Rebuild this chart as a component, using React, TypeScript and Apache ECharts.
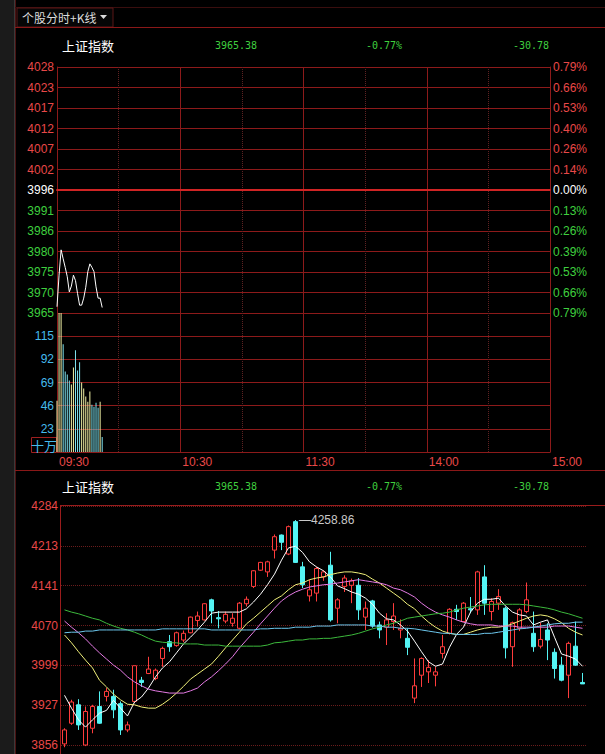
import React, { useEffect, useRef } from 'react';
import * as echarts from 'echarts';

// ---------- header ----------
const tabTitle = '个股分时+K线';
const indexName = '上证指数';
const lastPrice = 3965.38;
const changeValue = -30.78;
const changePct = -0.77;
const prevClose = 3996.16;

// ---------- intraday panel ----------
const topStep = 5.2617; // price per grid row (0.13% of prev close)
const priceLabels = ['3965', '3970', '3975', '3980', '3986', '3991', '3996', '4002', '4007', '4012', '4017', '4023', '4028'];
const pctLabels = ['0.79%', '0.66%', '0.53%', '0.39%', '0.26%', '0.13%', '0.00%', '0.14%', '0.26%', '0.40%', '0.53%', '0.66%', '0.79%'];
const timeLabels = ['09:30', '10:30', '11:30', '14:00', '15:00'];
const volUnit = '十万';
const intradayPrice = [3966.2, 3974.3, 3980.8, 3978.5, 3976.3, 3973.9, 3970.0, 3971.5, 3974.3, 3972.9, 3969.6, 3966.6, 3966.6, 3968.4, 3971.2, 3975.2, 3977.2, 3976.3, 3975.2, 3971.3, 3968.4, 3968.4, 3966.0];
const intradayVolume = [51, 138, 138, 107, 80, 77, 71, 67, 84, 101, 81, 89, 69, 63, 55, 50, 60, 47, 45, 49, 44, 50, 15];
const volumeDir = ['u', 'u', 'u', 'd', 'd', 'd', 'd', 'u', 'u', 'd', 'd', 'd', 'u', 'u', 'u', 'u', 'u', 'd', 'd', 'd', 'd', 'u', 'd'];

// ---------- daily K panel ----------
const kLabels = ['3856', '3927', '3999', '4070', '4141', '4213', '4284'];
const kMin = 3856;
const kStep = 428 / 6;
const kOpen = [3858, 3895, 3928, 3856, 3886, 3925, 3943, 3943, 3930, 3883, 3934, 3972, 3984, 3975, 4011, 4041, 4034, 4044, 4057, 4079, 4080, 4116, 4084, 4078, 4074, 4065, 4109, 4140, 4169, 4166, 4205, 4232, 4198, 4256, 4175, 4123, 4128, 4157, 4178, 4101, 4140, 4142, 4142, 4085, 4114, 4071, 4067, 4077, 4062, 4047, 3940, 3981, 3987, 3981, 4020, 4056, 4099, 4077, 4100, 4098, 4157, 4095, 4110, 4101, 4032, 4065, 4095, 4056, 4033, 4062, 4022, 3999, 3981, 4033, 3968];
const kClose = [3883, 3933, 3892, 3916, 3925, 3895, 3952, 3919, 3883, 3892, 3998, 3968, 3992, 3990, 4029, 4032, 4057, 4056, 4085, 4087, 4109, 4096, 4082, 4090, 4083, 4110, 4117, 4168, 4183, 4184, 4229, 4219, 4247, 4183, 4143, 4134, 4172, 4166, 4080, 4116, 4155, 4150, 4098, 4101, 4069, 4062, 4080, 4087, 4065, 4031, 3962, 4011, 3995, 3987, 4032, 4099, 4095, 4110, 4098, 4166, 4110, 4113, 4122, 4030, 4075, 4098, 4116, 4032, 4045, 4044, 3993, 3972, 4038, 3999, 3965.38];
const kLow = [3852, 3892, 3883, 3854, 3877, 3894, 3934, 3904, 3874, 3879, 3931, 3960, 3983, 3972, 3996, 4023, 4032, 4040, 4056, 4068, 4079, 4074, 4065, 4074, 4068, 4063, 4104, 4137, 4168, 4157, 4190, 4205, 4196, 4182, 4137, 4113, 4113, 4150, 4077, 4074, 4130, 4110, 4080, 4062, 4066, 4047, 4035, 4062, 4047, 4017, 3931, 3960, 3967, 3961, 4011, 4054, 4080, 4076, 4092, 4089, 4089, 4079, 4098, 4011, 3996, 4060, 4092, 4023, 4029, 4008, 3975, 3970, 3940, 3998, 3965.38];
const kHigh = [3886, 3937, 3938, 3925, 3928, 3952, 3958, 3955, 3934, 3898, 3998, 3978, 4014, 3993, 4032, 4053, 4059, 4061, 4086, 4095, 4110, 4118, 4096, 4095, 4092, 4112, 4122, 4169, 4184, 4186, 4233, 4233, 4249, 4258.86, 4184, 4152, 4175, 4169, 4202, 4119, 4160, 4154, 4155, 4113, 4116, 4077, 4092, 4110, 4081, 4065, 4011, 4013, 4008, 3996, 4053, 4101, 4107, 4112, 4121, 4168, 4178, 4119, 4135, 4104, 4077, 4101, 4147, 4095, 4075, 4074, 4029, 4014, 4041, 4077, 3985];
const ma5 = [3945, 3922, 3901, 3888, 3901, 3913, 3918, 3936, 3922, 3908, 3933, 3942, 3958, 3978, 3994, 4005, 4021, 4037, 4049, 4062, 4076, 4092, 4094, 4094, 4094, 4094, 4100, 4112, 4126, 4143, 4162, 4187, 4209, 4212, 4201, 4184, 4175, 4168, 4157, 4141, 4136, 4130, 4126, 4119, 4108, 4092, 4082, 4080, 4071, 4060, 4042, 4023, 4005, 3997, 4001, 4031, 4054, 4067, 4094, 4110, 4117, 4117, 4119, 4105, 4094, 4089, 4087, 4071, 4076, 4080, 4049, 4019, 4015, 4010, 3997];
const ma10 = [4053, 4039, 4023, 4008, 3994, 3972, 3960, 3947, 3937, 3929, 3928, 3924, 3922, 3922, 3929, 3938, 3949, 3961, 3974, 3983, 3992, 4001, 4015, 4030, 4044, 4058, 4073, 4083, 4094, 4105, 4116, 4123, 4134, 4143, 4146, 4152, 4155, 4157, 4161, 4164, 4166, 4166, 4164, 4161, 4153, 4146, 4137, 4128, 4119, 4108, 4100, 4087, 4076, 4067, 4060, 4056, 4054, 4054, 4058, 4062, 4065, 4067, 4067, 4069, 4073, 4078, 4083, 4087, 4089, 4087, 4082, 4075, 4065, 4058, 4053];
const ma20 = [4078, 4067, 4057, 4046, 4033, 4021, 4010, 3999, 3990, 3978, 3969, 3962, 3956, 3953, 3951, 3949, 3949, 3949, 3953, 3958, 3969, 3978, 3989, 4001, 4014, 4030, 4044, 4058, 4073, 4087, 4101, 4114, 4123, 4130, 4135, 4139, 4141, 4143, 4144, 4146, 4148, 4150, 4152, 4150, 4148, 4146, 4143, 4137, 4134, 4128, 4121, 4110, 4101, 4094, 4089, 4085, 4080, 4076, 4073, 4071, 4071, 4071, 4069, 4069, 4069, 4067, 4067, 4067, 4067, 4067, 4069, 4069, 4069, 4067, 4065];
const ma60 = [4098, 4094, 4091, 4087, 4083, 4080, 4074, 4069, 4065, 4062, 4058, 4053, 4047, 4042, 4040, 4039, 4039, 4037, 4037, 4037, 4035, 4035, 4035, 4033, 4033, 4033, 4033, 4033, 4033, 4035, 4039, 4040, 4042, 4044, 4044, 4046, 4046, 4047, 4047, 4049, 4051, 4053, 4056, 4060, 4064, 4067, 4071, 4074, 4078, 4083, 4085, 4087, 4089, 4091, 4092, 4094, 4098, 4101, 4103, 4105, 4107, 4108, 4108, 4108, 4108, 4108, 4107, 4105, 4103, 4101, 4098, 4094, 4091, 4087, 4083];
const ma120 = [4057, 4058, 4058, 4060, 4060, 4062, 4062, 4062, 4062, 4062, 4062, 4062, 4062, 4062, 4064, 4064, 4064, 4064, 4064, 4064, 4064, 4062, 4062, 4062, 4062, 4062, 4062, 4062, 4064, 4064, 4065, 4065, 4065, 4067, 4067, 4067, 4069, 4069, 4069, 4071, 4071, 4071, 4071, 4071, 4069, 4069, 4067, 4067, 4065, 4065, 4064, 4062, 4060, 4058, 4056, 4056, 4054, 4054, 4054, 4054, 4056, 4056, 4058, 4060, 4062, 4064, 4065, 4067, 4069, 4071, 4073, 4074, 4074, 4076, 4076];

// ---------- styles ----------
const GRID_RED = '#8c1a1a';
const DOT_RED = '#5e2222';
const RED_TXT = '#e84848';
const GREEN_TXT = '#3fcf3f';
const CYAN_TXT = '#45bbee';
const FONT = '"Liberation Sans", Arial, sans-serif';
const CJK = '"Noto Sans CJK SC", sans-serif';
const MONO = '"DejaVu Sans Mono", monospace';

const nTop = (p: number) => (p - prevClose) / topStep;
const nK = (p: number) => (p - kMin) / kStep;

export default function App() {
  const ref = useRef<HTMLDivElement>(null);

  useEffect(() => {
    document.body.style.background = '#000';
    const chart = echarts.init(ref.current!, null, { renderer: 'svg' });
    const kDays = kOpen.map((_, i) => String(i + 1));
    const maxHigh = Math.max(...kHigh);

    const lineSeries = (data: number[], color: string) => ({
      type: 'line',
      xAxisIndex: 2,
      yAxisIndex: 4,
      data: data.map(nK),
      showSymbol: false,
      symbol: 'none',
      lineStyle: { color, width: 1 },
      silent: true,
      z: 3,
    });

    const titleRow = (y: number) => [
      { type: 'text', x: 88, y, style: { text: indexName, fill: '#ffffff', font: `13px ${CJK}`, textAlign: 'center', textVerticalAlign: 'middle' } },
      { type: 'text', x: 236, y, style: { text: lastPrice.toFixed(2), fill: GREEN_TXT, font: `10px ${MONO}`, textAlign: 'center', textVerticalAlign: 'middle' } },
      { type: 'text', x: 384, y, style: { text: changePct.toFixed(2) + '%', fill: GREEN_TXT, font: `10px ${MONO}`, textAlign: 'center', textVerticalAlign: 'middle' } },
      { type: 'text', x: 531, y, style: { text: changeValue.toFixed(2), fill: GREEN_TXT, font: `10px ${MONO}`, textAlign: 'center', textVerticalAlign: 'middle' } },
    ];

    const hLine = (x1: number, x2: number, y: number, color: string) => ({
      type: 'line', shape: { x1, y1: y, x2, y2: y }, style: { stroke: color, lineWidth: 1 }, silent: true,
    });
    const vLine = (x: number, y1: number, y2: number, color: string) => ({
      type: 'line', shape: { x1: x, y1, x2: x, y2 }, style: { stroke: color, lineWidth: 1 }, silent: true,
    });

    chart.setOption({
      animation: false,
      backgroundColor: '#000000',
      grid: [
        { left: 57, top: 67, width: 493, height: 246 },
        { left: 57, top: 313, width: 493, height: 139 },
        { left: 61, top: 506, width: 525, height: 239 },
      ],
      xAxis: [
        {
          gridIndex: 0, type: 'value', min: 0, max: 240, interval: 60,
          axisLabel: { show: false }, axisTick: { show: false },
          axisLine: { show: true, lineStyle: { color: '#c41f1f', width: 2 } },
          splitLine: { show: true, lineStyle: { color: GRID_RED, width: 1 } },
          minorTick: { show: false, splitNumber: 2 },
          minorSplitLine: { show: true, lineStyle: { color: DOT_RED, type: 'dotted', width: 1 } },
        },
        {
          gridIndex: 1, type: 'value', min: 0, max: 240, interval: 60,
          axisLabel: {
            show: true, formatter: (v: number) => timeLabels[Math.round(v / 60)] ?? '',
            color: RED_TXT, fontSize: 12, fontFamily: FONT, align: 'left', margin: 4, padding: [0, 0, 0, 2],
            showMinLabel: true, showMaxLabel: true,
          },
          axisTick: { show: false },
          axisLine: { show: true, lineStyle: { color: GRID_RED, width: 1 } },
          splitLine: { show: true, lineStyle: { color: GRID_RED, width: 1 } },
          minorTick: { show: false, splitNumber: 2 },
          minorSplitLine: { show: true, lineStyle: { color: DOT_RED, type: 'dotted', width: 1 } },
        },
        { gridIndex: 2, type: 'category', data: kDays, boundaryGap: true, show: false },
      ],
      yAxis: [
        {
          gridIndex: 0, type: 'value', min: -6, max: 6, interval: 1,
          axisLabel: {
            formatter: (v: number) => priceLabels[Math.round(v) + 6] ?? '',
            color: (v: any) => { const n = Number(v); return n > 0 ? RED_TXT : n < 0 ? GREEN_TXT : '#ffffff'; },
            fontSize: 12, fontFamily: FONT, margin: 3,
          },
          axisTick: { show: false },
          axisLine: { show: true, lineStyle: { color: GRID_RED } },
          splitLine: { show: true, lineStyle: { color: GRID_RED, width: 1 } },
        },
        {
          gridIndex: 0, type: 'value', position: 'right', min: -6, max: 6, interval: 1,
          axisLabel: {
            formatter: (v: number) => pctLabels[Math.round(v) + 6] ?? '',
            color: (v: any) => { const n = Number(v); return n > 0 ? RED_TXT : n < 0 ? GREEN_TXT : '#ffffff'; },
            fontSize: 12, fontFamily: FONT, margin: 3,
          },
          axisTick: { show: false },
          axisLine: { show: true, lineStyle: { color: GRID_RED } },
          splitLine: { show: false },
        },
        {
          gridIndex: 1, type: 'value', min: 0, max: 138, interval: 23,
          axisLabel: {
            formatter: (v: number) => (v <= 0 || v >= 138 ? '' : String(v)),
            color: CYAN_TXT, fontSize: 12, fontFamily: FONT, margin: 3,
          },
          axisTick: { show: false },
          axisLine: { show: true, lineStyle: { color: GRID_RED } },
          splitLine: { show: true, lineStyle: { color: GRID_RED, width: 1 } },
        },
        {
          gridIndex: 1, type: 'value', position: 'right', min: 0, max: 138, interval: 23,
          axisLabel: { show: false }, axisTick: { show: false },
          axisLine: { show: true, lineStyle: { color: GRID_RED } },
          splitLine: { show: false },
        },
        {
          gridIndex: 2, type: 'value', min: 0, max: 6, interval: 1,
          axisLabel: {
            formatter: (v: number) => kLabels[Math.round(v)] ?? '',
            color: RED_TXT, fontSize: 12, fontFamily: FONT, margin: 3,
          },
          axisTick: { show: false },
          axisLine: { show: false },
          splitLine: { show: true, lineStyle: { color: '#6a1c1c', type: 'dotted', width: 1 } },
        },
      ],
      series: [
        {
          type: 'line', xAxisIndex: 0, yAxisIndex: 0,
          data: intradayPrice.map((p, i) => [i, nTop(p)]),
          showSymbol: false, symbol: 'none',
          lineStyle: { color: '#ffffff', width: 1 },
          silent: true,
          markLine: {
            silent: true, symbol: ['none', 'none'], label: { show: false },
            lineStyle: { color: '#d02424', width: 2, type: 'solid' },
            data: [{ yAxis: 0 }],
          },
        },
        {
          type: 'bar', xAxisIndex: 1, yAxisIndex: 2, barWidth: 1, silent: true,
          data: intradayVolume.map((v, i) => ({
            value: [i, v],
            itemStyle: { color: volumeDir[i] === 'u' ? '#f2f2a6' : '#7fe3ee' },
          })),
        },
        {
          type: 'candlestick', xAxisIndex: 2, yAxisIndex: 4, barWidth: 5, silent: true,
          data: kOpen.map((o, i) => [nK(o), nK(kClose[i]), nK(kLow[i]), nK(kHigh[i])]),
          itemStyle: {
            color: '#000000', color0: '#54f4f4',
            borderColor: '#ff3c3c', borderColor0: '#54f4f4', borderWidth: 1,
          },
          z: 2,
          markPoint: {
            symbol: 'circle', symbolSize: 1,
            itemStyle: { color: 'rgba(0,0,0,0)' },
            label: {
              show: true, position: 'right', distance: 3,
              formatter: () => '—' + maxHigh.toFixed(2),
              color: '#c8c8c8', fontSize: 12, fontFamily: FONT,
            },
            data: [{ type: 'max', valueDim: 'highest' }],
          },
        },
        lineSeries(ma5, '#ffffff'),
        lineSeries(ma10, '#f0f07a'),
        lineSeries(ma20, '#e47ae4'),
        lineSeries(ma60, '#3cb83c'),
        lineSeries(ma120, '#6cc6ec'),
      ],
      graphic: [
        { type: 'rect', shape: { x: 0, y: 0, width: 14, height: 754 }, style: { fill: '#1b1b1b' }, silent: true },
        vLine(14.5, 0, 754, '#3a3a3a'),
        vLine(15.5, 0, 754, '#4a1212'),
        hLine(15, 605, 7.5, '#3a0e0e'),
        { type: 'rect', shape: { x: 17, y: 8, width: 96, height: 19 }, style: { fill: '#060606', stroke: '#5a1616', lineWidth: 1 }, silent: true },
        { type: 'text', x: 22, y: 17.5, style: { text: tabTitle, fill: '#dcdcdc', font: `12px ${CJK}`, textAlign: 'left', textVerticalAlign: 'middle' } },
        { type: 'polygon', shape: { points: [[100, 15], [107, 15], [103.5, 19]] }, style: { fill: '#dcdcdc' }, silent: true },
        hLine(15, 605, 27.5, '#8a1818'),
        ...titleRow(45),
        hLine(15, 605, 470.5, '#8a1818'),
        ...titleRow(486),
        hLine(60, 605, 505.5, '#9a1c1c'),
        vLine(60.5, 505, 754, '#9a1c1c'),
        { type: 'rect', shape: { x: 31.5, y: 437.5, width: 25, height: 15 }, style: { fill: 'transparent', stroke: '#a02020', lineWidth: 1 }, silent: true },
        { type: 'text', x: 44, y: 445, style: { text: volUnit, fill: CYAN_TXT, font: `13px ${CJK}`, textAlign: 'center', textVerticalAlign: 'middle' } },
      ],
    });

    return () => chart.dispose();
  }, []);

  return (
    <div style={{ position: 'fixed', left: 0, top: 0, width: 605, height: 754, background: '#000' }}>
      <div ref={ref} style={{ width: 605, height: 754 }} />
    </div>
  );
}
